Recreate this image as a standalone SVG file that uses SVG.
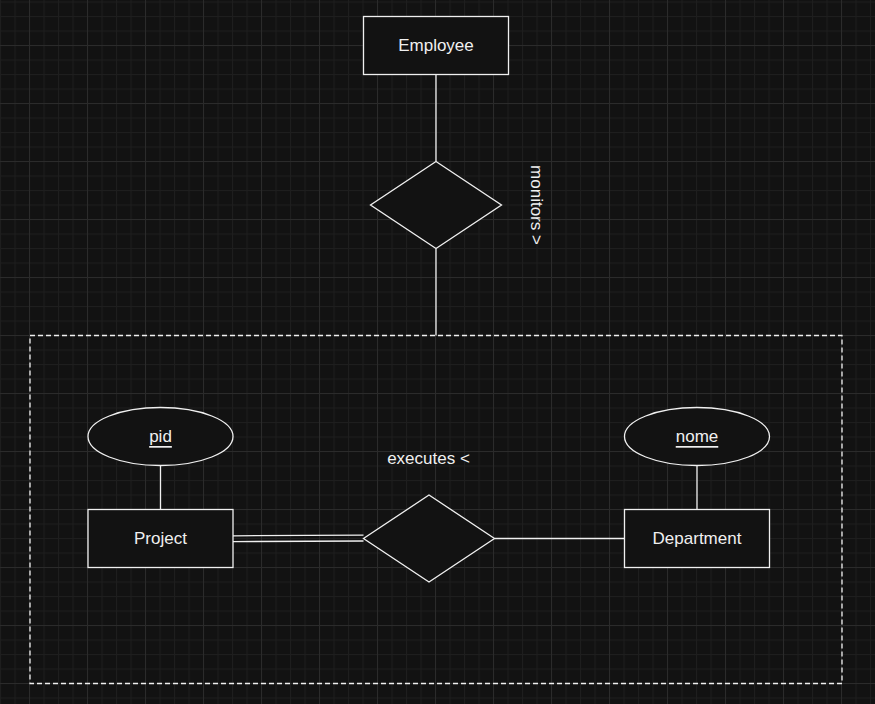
<svg xmlns="http://www.w3.org/2000/svg" width="875" height="704" viewBox="0 0 875 704">
<defs>
<pattern id="minor" patternUnits="userSpaceOnUse" x="0" y="1.5" width="14.5" height="14.5">
<rect x="0" y="0" width="1" height="14.5" fill="#1e1e1e"/>
<rect x="0" y="0" width="14.5" height="1" fill="#1e1e1e"/>
</pattern>
<pattern id="major" patternUnits="userSpaceOnUse" x="29" y="45" width="58" height="58">
<rect x="0" y="0" width="1" height="58" fill="#2b2b2b"/>
<rect x="0" y="0" width="58" height="1" fill="#2b2b2b"/>
</pattern>
</defs>
<style>
.shape{fill:#121212;stroke:#f0f0f0;stroke-width:1.3}
.line{fill:none;stroke:#f0f0f0;stroke-width:1.3}
.lbl{font-family:"Liberation Sans",Arial,sans-serif;font-size:17px;fill:#f0f0f0;text-anchor:middle;dominant-baseline:central}
.u{text-decoration:underline}
</style>
<rect width="875" height="704" fill="#121212"/>
<rect width="875" height="704" fill="url(#minor)"/>
<rect width="875" height="704" fill="url(#major)"/>

<g id="connectors">
<line class="line" x1="436" y1="74.5" x2="436" y2="161.5"/>
<line class="line" x1="436" y1="248.5" x2="436" y2="335.5"/>
<line class="line" x1="160.5" y1="465.5" x2="160.5" y2="509.5"/>
<line class="line" x1="697" y1="465.5" x2="697" y2="509.5"/>
<line class="line" x1="233" y1="535.8" x2="363.5" y2="535.2"/>
<line class="line" x1="233" y1="541.6" x2="363.5" y2="541"/>
<line class="line" x1="494.5" y1="538.5" x2="624.5" y2="538.5"/>
</g>

<g id="group-box">
<rect x="30" y="335.5" width="812" height="348" fill="none" stroke="#f0f0f0" stroke-width="1.3" stroke-dasharray="5 3"/>
</g>

<g id="employee">
<rect class="shape" x="363.5" y="16.5" width="145" height="58"/>
<text class="lbl" x="436" y="45.5">Employee</text>
</g>

<g id="monitors">
<polygon class="shape" points="436,161.5 501.5,205 436,248.5 370.5,205"/>
<text class="lbl" transform="translate(536,205) rotate(90)" x="0" y="0">monitors &gt;</text>
</g>

<g id="pid">
<ellipse class="shape" cx="160.5" cy="436.5" rx="72.5" ry="29"/>
<text class="lbl u" x="160.5" y="436.5">pid</text>
</g>

<g id="project">
<rect class="shape" x="88" y="509.5" width="145" height="58"/>
<text class="lbl" x="160.5" y="538.5">Project</text>
</g>

<g id="executes">
<polygon class="shape" points="429,495 494.5,538.5 429,582 363.5,538.5"/>
<text class="lbl" x="428.5" y="458.5">executes &lt;</text>
</g>

<g id="nome">
<ellipse class="shape" cx="697" cy="436.5" rx="72.5" ry="29"/>
<text class="lbl u" x="697" y="436.5">nome</text>
</g>

<g id="department">
<rect class="shape" x="624.5" y="509.5" width="145" height="58"/>
<text class="lbl" x="697" y="538.5">Department</text>
</g>
</svg>
